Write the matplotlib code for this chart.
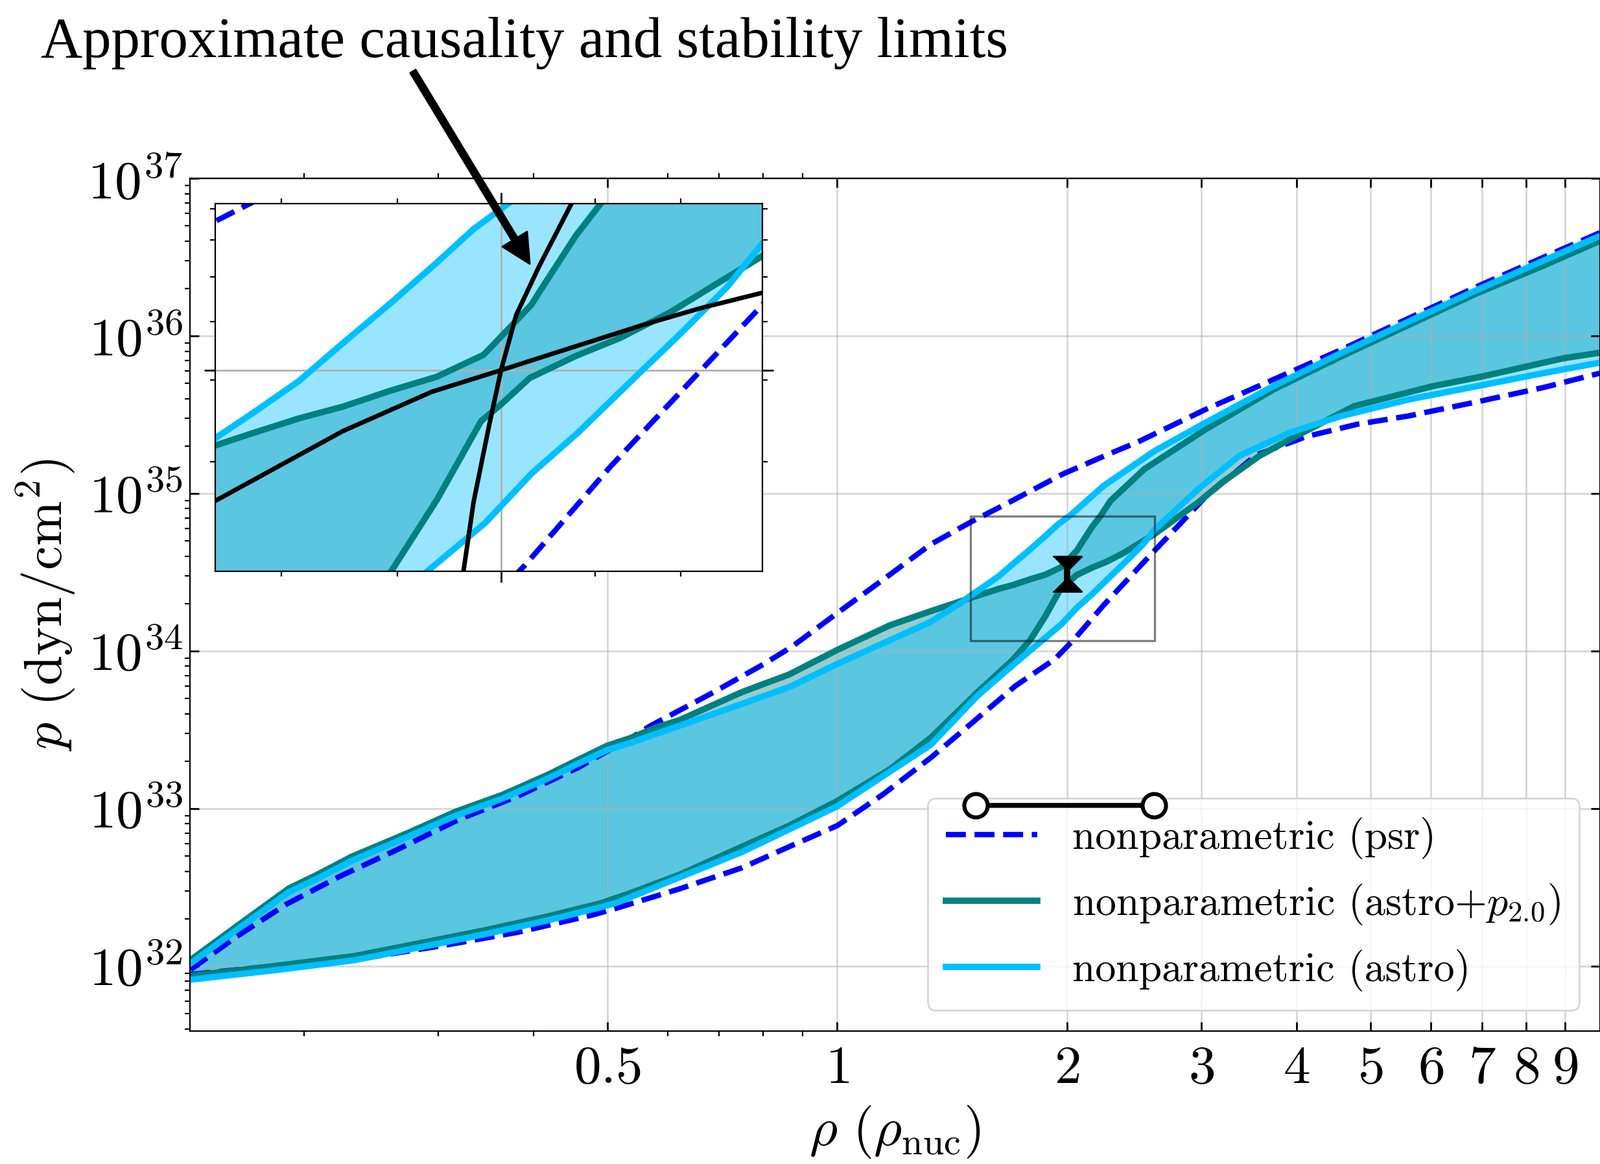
import numpy as np
import matplotlib
matplotlib.use('Agg')
import matplotlib.pyplot as plt
from matplotlib.patches import Rectangle
from matplotlib.ticker import FixedLocator, FixedFormatter, NullFormatter

plt.rcParams['font.family'] = 'cmr10'
plt.rcParams['mathtext.fontset'] = 'cm'
plt.rcParams['axes.formatter.use_mathtext'] = True
plt.rcParams['axes.unicode_minus'] = False

#------------------------------------------------------------------
#   DATA  (rho in units of rho_nuc, p in dyn/cm^2)
#------------------------------------------------------------------
# nonparametric (psr) bounds
rho_psr_up = [0.142, 0.1625, 0.1893, 0.2225, 0.2663, 0.3187, 0.3814, 0.4566, 0.5366, 0.569,
              0.6825, 0.802, 0.8734, 1.0, 1.15, 1.326, 1.5, 1.68, 1.974, 2.271, 2.477,
              3.039, 3.726, 4.569, 5.603, 6.873, 8.427, 10.0]
p_psr_up = [9.5e31, 1.52e32, 2.46e32, 3.70e32, 5.55e32, 8.5e32, 1.20e33, 1.81e33, 2.81e33, 3.35e33,
            5.35e33, 8.28e33, 1.07e34, 1.74e34, 2.85e34, 4.75e34, 6.62e34, 8.78e34, 1.325e35, 1.78e35, 2.12e35,
            3.41e35, 5.27e35, 8.14e35, 1.288e36, 2.04e36, 3.15e36, 4.52e36]
rho_psr_lo = [0.142, 0.1859, 0.2434, 0.3047, 0.3814, 0.4776, 0.5134, 0.6209, 0.7503, 0.865,
              1.0, 1.15, 1.326, 1.528, 1.712, 1.93, 2.049, 2.236, 2.608, 2.872, 3.039,
              3.54, 4.125, 4.808, 5.603, 6.873, 8.427, 10.0]
p_psr_lo = [8.85e31, 1.011e32, 1.137e32, 1.352e32, 1.64e32, 2.11e32, 2.33e32, 3.09e32, 4.21e32, 5.73e32,
            7.79e32, 1.237e33, 2.1e33, 3.75e33, 6.0e33, 8.9e33, 1.2e34, 1.96e34, 4.35e34, 7.1e34, 9.5e34,
            1.75e35, 2.3e35, 2.75e35, 3.1e35, 3.8e35, 4.7e35, 5.80e35]

# nonparametric (astro+p2.0) bounds
rho_p20_up = [0.142, 0.1654, 0.191, 0.2089, 0.2307, 0.2761, 0.3158, 0.3646, 0.4174, 0.4566,
              0.4994, 0.5366, 0.5806, 0.6209, 0.7503, 0.865, 1.0, 1.172, 1.326, 1.496,
              1.551, 1.628, 1.703, 1.789, 1.874, 1.965, 2.023, 2.063, 2.083, 2.158,
              2.213, 2.283, 2.527, 3.039, 3.726, 4.569, 5.603, 6.873, 8.427, 10.0]
p_p20_up = [1.093e32, 1.877e32, 3.11e32, 3.84e32, 4.94e32, 7.13e32, 9.54e32, 1.226e33, 1.639e33, 2.03e33,
            2.507e33, 2.81e33, 3.29e33, 3.64e33, 5.49e33, 7.10e33, 1.016e34, 1.455e34, 1.79e34, 2.17e34,
            2.30e34, 2.48e34, 2.63e34, 2.85e34, 3.05e34, 3.40e34, 3.94e34, 4.36e34, 4.70e34, 6.13e34,
            7.18e34, 9.0e34, 1.427e35, 2.55e35, 4.55e35, 7.38e35, 1.169e36, 1.851e36, 2.79e36, 4.01e36]
rho_p20_lo = [0.142, 0.1859, 0.2327, 0.2913, 0.3486, 0.4174, 0.4905, 0.5318, 0.6209, 0.7503,
              0.865, 1.0, 1.172, 1.326, 1.416, 1.528, 1.696, 1.789, 1.874, 1.96,
              2.0, 2.059, 2.158, 2.256, 2.374, 2.488, 2.608, 2.976, 3.197, 3.577,
              3.961, 4.76, 6.02, 7.015, 8.011, 8.96, 10.0]
p_p20_lo = [8.68e31, 1.011e32, 1.158e32, 1.434e32, 1.705e32, 2.068e32, 2.51e32, 2.87e32, 3.80e32, 5.73e32,
            7.79e32, 1.116e33, 1.773e33, 2.81e33, 3.83e33, 5.49e33, 8.71e33, 1.166e34, 1.66e34, 2.45e34,
            2.66e34, 3.03e34, 3.38e34, 3.69e34, 4.19e34, 4.82e34, 5.54e34, 8.80e34, 1.176e35, 1.731e35,
            2.26e35, 3.58e35, 4.78e35, 5.53e35, 6.39e35, 7.21e35, 7.82e35]

# nonparametric (astro) bounds
rho_astro_up = [0.142, 0.1654, 0.191, 0.2089, 0.2307, 0.2761, 0.3158, 0.3646, 0.4174, 0.4566,
                0.4994, 0.5366, 0.6825, 0.865, 1.0, 1.172, 1.326, 1.456, 1.496, 1.551,
                1.628, 1.703, 1.785, 1.871, 1.945, 2.02, 2.236, 2.607, 3.039, 3.726,
                4.569, 5.603, 6.873, 8.427, 10.0]
p_astro_up = [1.04e32, 1.78e32, 2.95e32, 3.62e32, 4.65e32, 6.75e32, 9.0e32, 1.16e33, 1.55e33, 1.92e33,
              2.35e33, 2.62e33, 3.93e33, 5.9e33, 8.28e33, 1.17e34, 1.532e34, 2.035e34, 2.25e34, 2.53e34,
              2.98e34, 3.60e34, 4.36e34, 5.33e34, 6.33e34, 7.25e34, 1.12e35, 1.862e35, 2.81e35, 4.78e35,
              7.75e35, 1.227e36, 1.942e36, 3.00e36, 4.31e36]
rho_astro_lo = [0.142, 0.1859, 0.2327, 0.2913, 0.3486, 0.4174, 0.4905, 0.5134, 0.7503, 1.0,
                1.326, 1.528, 1.696, 1.856, 1.968, 2.063, 2.162, 2.293, 2.402, 2.517,
                2.608, 2.976, 3.365, 3.92, 4.569, 5.603, 6.873, 8.427, 10.0]
p_astro_lo = [8.2e31, 9.5e31, 1.09e32, 1.35e32, 1.61e32, 1.95e32, 2.37e32, 2.52e32, 5.30e32, 1.034e33,
              2.54e33, 5.21e33, 8.07e33, 1.166e34, 1.48e34, 1.89e34, 2.31e34, 3.05e34, 3.79e34, 4.76e34,
              5.90e34, 1.068e35, 1.731e35, 2.43e35, 3.09e35, 3.94e35, 4.78e35, 5.80e35, 6.77e35]

# approximate causality / stability limits through p(2 rho_nuc)
rho_caus = [1.925, 1.934, 1.945, 1.976, 2.0, 2.031, 2.079, 2.149]
p_caus = [1.164e34, 1.359e34, 1.642e34, 2.40e34, 3.15e34, 4.14e34, 5.27e34, 7.2e34]
rho_stab = [1.496, 1.703, 1.864, 2.0, 2.136, 2.31, 2.449, 2.608]
p_stab = [1.65e34, 2.33e34, 2.83e34, 3.15e34, 3.49e34, 3.94e34, 4.28e34, 4.62e34]

# pressure at twice nuclear density (hourglass marker)
rho_meas = 2.0
p_meas = 3.15e34
p_meas_lo = 2.65e34
p_meas_hi = 3.6e34

# density range bar
rho_bar = [1.52, 2.6]
p_bar = [1.05e33, 1.05e33]

# zoom window
inset_xlim = (1.496, 2.608)
inset_ylim = (1.165e34, 7.18e34)

xticks_major = [0.5, 1, 2, 3, 4, 5, 6, 7, 8, 9]
xtick_labels = ['$0.5$', '$1$', '$2$', '$3$', '$4$', '$5$', '$6$', '$7$', '$8$', '$9$']
xticks_minor = [0.2, 0.3, 0.4, 0.6, 0.7, 0.8, 0.9]

#------------------------------------------------------------------
#   PLOTTING
#------------------------------------------------------------------
def band(a, rx_up, py_up, rx_lo, py_lo, color):
    a.fill(np.r_[rx_up, rx_lo[::-1]], np.r_[py_up, py_lo[::-1]], color=color, alpha=0.4, lw=0)

def draw_curves(a):
    band(a, rho_p20_up, p_p20_up, rho_p20_lo, p_p20_lo, 'teal')
    band(a, rho_astro_up, p_astro_up, rho_astro_lo, p_astro_lo, 'deepskyblue')
    a.plot(rho_psr_up, p_psr_up, '--', color='blue', lw=3, label='nonparametric (psr)')
    a.plot(rho_psr_lo, p_psr_lo, '--', color='blue', lw=3)
    a.plot(rho_p20_up, p_p20_up, '-', color='teal', lw=3.5, label='nonparametric (astro+$p_{2.0}$)')
    a.plot(rho_p20_lo, p_p20_lo, '-', color='teal', lw=3.5)
    a.plot(rho_astro_up, p_astro_up, '-', color='deepskyblue', lw=3.5, label='nonparametric (astro)')
    a.plot(rho_astro_lo, p_astro_lo, '-', color='deepskyblue', lw=3.5)

fig = plt.figure(figsize=(12.34, 8.975), dpi=200)
ax = fig.add_axes([0.1187, 0.1142, 0.8813, 0.7326])
ax.set_xscale('log')
ax.set_yscale('log')
draw_curves(ax)

# hourglass marker
tri_down = [(-1, 0.5), (1, 0.5), (0, -0.5)]
tri_up = [(-1, -0.5), (1, -0.5), (0, 0.5)]
ax.plot([rho_meas, rho_meas], [p_meas_lo, p_meas_hi], color='black', lw=3.5, zorder=6)
ax.plot([rho_meas], [p_meas_hi], marker=tri_down, color='black', ms=16, zorder=6)
ax.plot([rho_meas], [p_meas_lo], marker=tri_up, color='black', ms=16, zorder=6)

ax.add_patch(Rectangle((inset_xlim[0], inset_ylim[0]), inset_xlim[1] - inset_xlim[0],
                       inset_ylim[1] - inset_ylim[0], fill=False, edgecolor='black',
                       alpha=0.5, lw=1.2, zorder=4.99))

ax.set_xlim(0.1417, 10.0)
ax.set_ylim(3.87e31, 1e37)
ax.xaxis.set_major_locator(FixedLocator(xticks_major))
ax.xaxis.set_major_formatter(FixedFormatter(xtick_labels))
ax.xaxis.set_minor_locator(FixedLocator(xticks_minor))
ax.xaxis.set_minor_formatter(NullFormatter())
ax.tick_params(which='major', direction='in', length=5, width=1, labelsize=30, top=True, right=True)
ax.tick_params(which='minor', direction='out', length=3, width=0.8, top=True, right=True)
ax.tick_params(axis='x', which='major', pad=8)
ax.tick_params(axis='y', which='major', pad=4)
ax.grid(True, which='major', color='#b0b0b0', alpha=0.5, lw=1)
ax.set_xlabel(r'$\rho\ (\rho_{\rm nuc})$', fontsize=30, labelpad=6)
ax.set_ylabel(r'$p\ ({\rm dyn/cm^2})$', fontsize=30, labelpad=6)

leg = ax.legend(loc='lower right', fontsize=23, handlelength=2.2, handletextpad=0.85,
                labelspacing=0.55, borderpad=0.45)

ax.plot(rho_bar, p_bar, '-o', color='black', lw=2.7, ms=13, mfc='white', mec='black',
        mew=2.2, zorder=10, clip_on=False)

# inset
axins = fig.add_axes([0.1345, 0.5092, 0.342, 0.3159])
axins.set_xscale('log')
axins.set_yscale('log')
draw_curves(axins)
axins.plot(rho_caus, p_caus, color='black', lw=2.5)
axins.plot(rho_stab, p_stab, color='black', lw=2.5)
axins.set_xlim(*inset_xlim)
axins.set_ylim(*inset_ylim)
axins.set_xticks([rho_meas])
axins.set_xticks([1.6, 1.8, 2.2, 2.4], minor=True)
axins.set_yticks([p_meas])
axins.xaxis.set_major_formatter(NullFormatter())
axins.xaxis.set_minor_formatter(NullFormatter())
axins.yaxis.set_major_formatter(NullFormatter())
axins.yaxis.set_minor_formatter(NullFormatter())
axins.tick_params(which='major', direction='out', length=6, width=1, top=True, right=True)
axins.tick_params(which='minor', direction='out', length=3, width=0.8, top=True, right=True)
axins.grid(True, which='major', color='#b0b0b0', lw=1)

axins.annotate('', xy=(2.059, 5.33e34), xycoords='data',
               xytext=(637 / 2468, 1 - 110 / 1795), textcoords='figure fraction',
               arrowprops=dict(facecolor='black', edgecolor='black', width=3.5,
                               headwidth=16, headlength=16, shrink=0),
               annotation_clip=False)

fig.text(63 / 2468, 1 - 26 / 1795, 'Approximate causality and stability limits',
         fontsize=32, family='Liberation Serif', ha='left', va='top')

fig.savefig('out.png', dpi=200)
